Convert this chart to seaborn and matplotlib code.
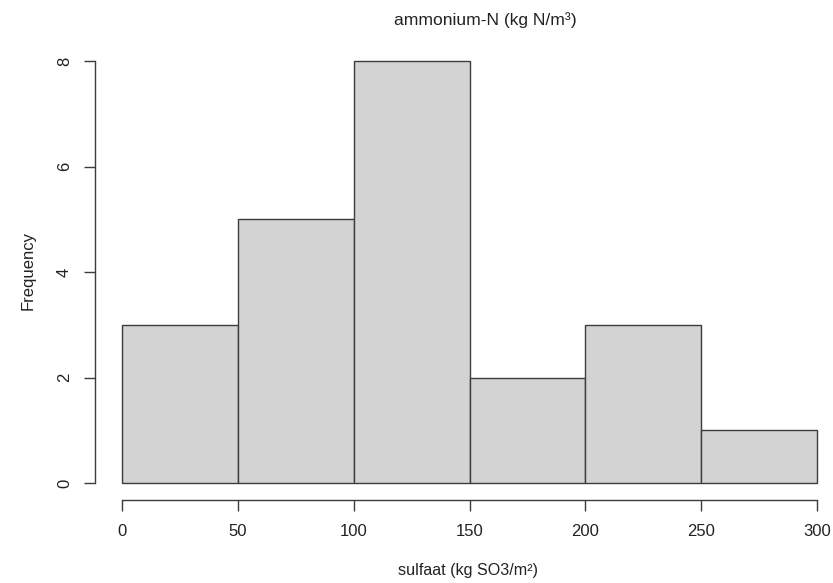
import matplotlib
matplotlib.use('Agg')
import matplotlib.pyplot as plt
import numpy as np
import seaborn as sns

# histogram of sulfaat values: bin edges and counts per bin
bin_edges = [0, 50, 100, 150, 200, 250, 300]
counts = [3, 5, 8, 2, 3, 1]
x_ticks = [0, 50, 100, 150, 200, 250, 300]
y_ticks = [0, 2, 4, 6, 8]

title = 'ammonium-N (kg N/m³)'
x_label = 'sulfaat (kg SO3/m²)'
y_label = 'Frequency'

sns.set_style('white')
plt.rcParams['font.family'] = ['Liberation Sans', 'DejaVu Sans']
text_color = '#222222'
line_color = '#3c3c3c'

W, H = 833, 583
fig = plt.figure(figsize=(W / 100, H / 100), dpi=100)
ax = fig.add_axes([122 / W, 1 - 483 / H, (817 - 122) / W, (483 - 61) / H])

mids = [(a + b) / 2 for a, b in zip(bin_edges[:-1], bin_edges[1:])]
sns.histplot(x=mids, weights=counts, bins=bin_edges, color='#D3D3D3',
             edgecolor=line_color, linewidth=1.0, alpha=1, ax=ax)
for p in ax.patches:
    p.set_clip_on(False)

ax.set_xlim(0, 300)
ax.set_ylim(0, 8)
ax.set_xlabel('')
ax.set_ylabel('')

for s in ['top', 'right']:
    ax.spines[s].set_visible(False)
ax.spines['left'].set_position(('outward', 27 * 0.72))
ax.spines['bottom'].set_position(('outward', 17 * 0.72))
ax.spines['left'].set_bounds(0, 8)
ax.spines['bottom'].set_bounds(0, 300)
for s in ['left', 'bottom']:
    ax.spines[s].set_color(line_color)
    ax.spines[s].set_linewidth(1.0)

ax.set_xticks(x_ticks)
ax.set_yticks(y_ticks)
ax.tick_params(axis='both', length=8, width=1.0, color=line_color,
               labelsize=12, labelcolor=text_color, direction='out')
ax.tick_params(axis='x', pad=9, bottom=True)
ax.tick_params(axis='y', pad=8.5, left=True)
for lab in ax.get_yticklabels():
    lab.set_rotation(90)
    lab.set_va('center')

fig.text(485 / W, 1 - 20 / H, title, ha='center', va='center',
         fontsize=12.6, color=text_color)
fig.text(468 / W, 1 - 571 / H, x_label, ha='center', va='center',
         fontsize=11.6, color=text_color)
fig.text(28 / W, 1 - 271 / H, y_label, ha='center', va='center',
         rotation=90, fontsize=12, color=text_color)

fig.savefig('out.png', dpi=100)
